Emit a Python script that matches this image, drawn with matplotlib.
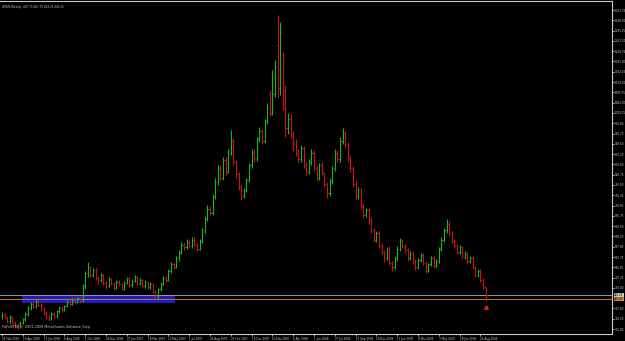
import matplotlib
matplotlib.use('Agg')
import matplotlib.pyplot as plt
from matplotlib import font_manager
from matplotlib.patches import Rectangle

# Weekly OHLC bars (price units)
opens = [
    372, 378, 366, 358, 370, 352, 344, 340, 350,
    362, 380, 398, 412, 404, 422,
    410, 396, 384, 372, 366, 380, 372, 388,
    398, 392, 406, 420, 412, 426, 418, 430,
    424, 470, 512,
    530, 505, 522, 496, 488, 506, 480, 470, 492, 478, 465, 484, 476, 462, 480, 495, 472, 486, 500, 478, 490, 470, 482, 468,
    476, 452, 436,
    460, 478, 496, 490, 518, 540, 532, 560, 578, 602,
    596, 612, 598, 620, 604, 590,
    615, 650, 688, 720, 705, 760,
    805, 850, 820, 878, 840, 900, 940, 870,
    832, 790, 762, 780,
    812, 860, 902, 880, 945, 970,
    940, 1002, 1050, 1030,
    1090, 1250, 1110,
    1220, 1100,
    980, 1010, 960,
    930, 900, 880, 915, 860, 840, 870, 900, 850, 820, 860, 835, 800,
    770, 810, 850, 900, 880, 940, 965,
    930, 880, 850, 800, 760, 780, 730, 700,
    715, 680, 650, 620, 640, 600, 580, 560, 590, 545,
    530, 560, 590, 615, 600,
    585, 560, 575, 548, 530, 555, 570, 545, 520, 540, 560, 535,
    550, 590, 620, 650, 672,
    640, 615, 600, 580, 595, 565, 575, 550,
    560, 530, 505, 520, 490,
    467.75,
]
highs = [
    386, 384, 372, 376, 374, 358, 350, 356, 368,
    386, 404, 420, 418, 428, 426,
    414, 402, 390, 378, 386, 386, 392, 404,
    404, 410, 426, 424, 432, 430, 436, 434,
    476, 520, 548,
    536, 528, 528, 502, 512, 510, 486, 498, 496, 484, 490, 490, 480, 486, 500, 500, 492, 506, 504, 496, 494, 488, 486, 482,
    480, 458, 464,
    484, 502, 504, 524, 548, 546, 566, 586, 612, 610,
    622, 620, 630, 628, 610, 622,
    656, 696, 732, 728, 768, 818,
    862, 860, 888, 886, 912, 975, 948, 876,
    840, 798, 788, 820,
    868, 912, 914, 952, 985, 978,
    1010, 1060, 1104, 1168,
    1200, 1346, 1323,
    1226, 1120,
    1030, 1025, 972,
    945, 912, 925, 922, 872, 880, 912, 908, 858, 868, 872, 840, 806,
    818, 858, 912, 910, 950, 980, 972,
    936, 892, 858, 808, 790, 788, 738, 722,
    722, 690, 658, 648, 648, 608, 588, 596, 598, 552,
    566, 598, 626, 622, 606,
    592, 582, 582, 556, 562, 578, 576, 552, 546, 566, 566, 556,
    596, 628, 656, 688, 680,
    648, 622, 606, 602, 600, 582, 580, 566,
    566, 536, 526, 524, 496,
    467.75,
]
lows = [
    364, 362, 350, 352, 346, 336, 330, 334, 346,
    356, 374, 392, 398, 400, 404,
    390, 378, 364, 358, 360, 366, 368, 382,
    386, 388, 402, 406, 408, 412, 414, 416,
    420, 462, 500,
    498, 500, 490, 478, 484, 474, 462, 466, 472, 458, 460, 470, 456, 458, 476, 466, 468, 482, 472, 474, 464, 464, 462, 462,
    446, 428, 432,
    454, 472, 484, 486, 512, 526, 528, 552, 572, 588,
    590, 592, 594, 598, 584, 586,
    610, 642, 680, 696, 700, 752,
    798, 810, 814, 830, 836, 892, 862, 820,
    780, 748, 756, 774,
    806, 852, 872, 874, 936, 930,
    932, 995, 1020, 1024,
    1080, 1080, 1087,
    1040, 950,
    960, 948, 905,
    890, 866, 872, 852, 826, 832, 862, 842, 808, 812, 828, 790, 755,
    762, 800, 842, 870, 872, 928, 920,
    870, 840, 790, 748, 750, 720, 690, 692,
    672, 642, 612, 612, 592, 572, 548, 554, 538, 518,
    524, 552, 582, 594, 578,
    552, 554, 540, 522, 524, 548, 538, 512, 514, 534, 528, 530,
    544, 582, 612, 642, 632,
    608, 594, 572, 574, 560, 558, 542, 544,
    524, 498, 498, 484, 462,
    423.25,
]
closes = [
    378, 366, 358, 370, 352, 344, 340, 350, 362,
    380, 398, 412, 404, 422, 410,
    396, 384, 372, 366, 380, 372, 388, 398,
    392, 406, 420, 412, 426, 418, 430, 424,
    470, 512, 530,
    505, 522, 496, 488, 506, 480, 470, 492, 478, 465, 484, 476, 462, 480, 495, 472, 486, 500, 478, 490, 470, 482, 468, 476,
    452, 436, 460,
    478, 496, 490, 518, 540, 532, 560, 578, 602, 596,
    612, 598, 620, 604, 590, 615,
    650, 688, 720, 705, 760, 805,
    850, 820, 878, 840, 900, 940, 870, 832,
    790, 762, 780, 812,
    860, 902, 880, 945, 970, 940,
    1002, 1050, 1030, 1090,
    1180, 1110, 1290,
    1060, 980,
    1010, 960, 930,
    900, 880, 915, 860, 840, 870, 900, 850, 820, 860, 835, 800, 770,
    810, 850, 900, 880, 940, 965, 930,
    880, 850, 800, 760, 780, 730, 700, 715,
    680, 650, 620, 640, 600, 580, 560, 590, 545, 530,
    560, 590, 615, 600, 585,
    560, 575, 548, 530, 555, 570, 545, 520, 540, 560, 535, 550,
    590, 620, 650, 672, 640,
    615, 600, 580, 595, 565, 575, 550, 560,
    530, 505, 520, 490, 470,
    440.25,
]

date_labels = ["24 Feb 2006", "16 Apr 2006", "11 Jun 2006", "6 Aug 2006", "1 Oct 2006",
               "26 Nov 2006", "21 Jan 2007", "18 Mar 2007", "13 May 2007", "1 Jul 2007",
               "26 Aug 2007", "21 Oct 2007", "16 Dec 2007", "10 Feb 2008", "6 Apr 2008",
               "1 Jun 2008", "27 Jul 2008", "21 Sep 2008", "16 Nov 2008", "11 Jan 2009",
               "8 Mar 2009", "3 May 2009", "28 Jun 2009", "23 Aug 2009"]
date_bars = [0, 8, 16, 24, 32, 40, 48, 56, 64, 72, 80, 88, 96, 104, 112,
             120, 128, 136, 144, 152, 160, 168, 176, 184]

price_ticks = [1361.75, 1328.50, 1295.25, 1262.00, 1228.75, 1195.50, 1162.25, 1129.00,
               1095.75, 1062.50, 1029.25, 996.00, 962.75, 929.50, 896.25, 863.00,
               829.75, 796.50, 763.25, 730.00, 696.75, 663.50, 630.25, 597.00,
               563.75, 530.50, 497.25, 464.00, 397.50, 364.25, 331.00]

bid_price = 440.25
level_price = 428.00
zone_bars = (7.7, 66.5)
zone_prices = (415.0, 441.0)
symbol = "#MUS,Weekly"

UP = '#1fb41f'
DOWN = '#c81414'
FG = '#c8c8c8'

# MT4 uses a small narrow pixel font; a narrow sans is the closest match
try:
    font_manager.findfont('Liberation Sans Narrow', fallback_to_default=False)
    FONT, k = 'Liberation Sans Narrow', 1.0
except ValueError:
    FONT, k = 'DejaVu Sans', 0.78
plt.rcParams['font.family'] = [FONT, 'DejaVu Sans']

YMIN, YMAX = 315, 1391

fig = plt.figure(figsize=(6.25, 3.41), dpi=100, facecolor='black')
ax = fig.add_axes([0.0, 0.0205, 0.9792, 0.9766])
ax.set_facecolor('black')

# support zone (drawn behind the bars)
ax.add_patch(Rectangle((zone_bars[0], zone_prices[0]), zone_bars[1] - zone_bars[0],
                       zone_prices[1] - zone_prices[0], facecolor='#1c1cc8',
                       edgecolor='none', zorder=1))

# OHLC bars
for i, (o, h, l, c) in enumerate(zip(opens, highs, lows, closes)):
    col = UP if c >= o else DOWN
    ax.vlines(i, l, h, color=col, linewidth=0.8, zorder=3)
    ax.hlines(o, i - 0.45, i, color=col, linewidth=0.6, zorder=3)
    ax.hlines(c, i, i + 0.45, color=col, linewidth=0.6, zorder=3)

ax.axhline(bid_price, color='#9a9a9a', linewidth=0.7, zorder=2)
ax.axhline(level_price, color='#c8781e', linewidth=0.7, zorder=2)
ax.plot([len(closes) - 1], [402], marker='^', color='#e02020', markersize=2.5,
        linestyle='none', zorder=4)

ax.set_xlim(-0.8, 234.6)
ax.set_ylim(YMIN, YMAX)

ax.spines['left'].set_visible(False)
for s in ['right', 'bottom', 'top']:
    ax.spines[s].set_color(FG)
    ax.spines[s].set_linewidth(0.8)

ax.yaxis.tick_right()
ax.set_yticks(price_ticks)
ax.set_yticklabels([f"{p:.2f}" for p in price_ticks])
ax.set_xticks(date_bars)
ax.set_xticklabels(date_labels, ha='left')
ax.tick_params(axis='y', colors=FG, labelsize=2.55 * k, length=1.5, width=0.6, pad=0.6)
ax.tick_params(axis='x', colors=FG, labelsize=2.5 * k, length=1.5, width=0.6, pad=0.3)

# price tags on the right
for price, bg in [(bid_price, '#c8c8c8'), (level_price, '#d08c28')]:
    ax.text(1.0035, (price - YMIN) / (YMAX - YMIN), f"{price:.2f}", transform=ax.transAxes,
            fontsize=2.55 * k, color='black', va='center', ha='left',
            bbox=dict(boxstyle='square,pad=0.12', facecolor=bg, edgecolor='none'))

o_last, h_last, l_last, c_last = opens[-1], highs[-1], lows[-1], closes[-1]
ax.text(0.004, 0.988, f"{symbol}  {o_last:.2f} {h_last:.2f} {l_last:.2f} {c_last:.2f}",
        transform=ax.transAxes, fontsize=2.6 * k, color=FG, va='top', ha='left')
ax.text(0.004, 0.014, "PdFx/MT4, \u00a9 2001-2009 MetaQuotes Software Corp.",
        transform=ax.transAxes, fontsize=3.1 * k, color=FG, va='bottom', ha='left')

fig.savefig('out.png', dpi=100, facecolor='black')
